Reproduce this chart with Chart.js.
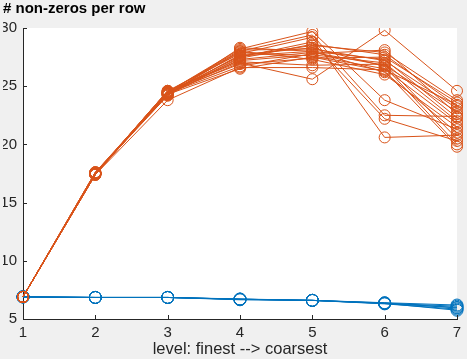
<!DOCTYPE html>
<html>
<head>
<meta charset="utf-8">
<script src="https://cdn.jsdelivr.net/npm/chart.js@4"></script>
<style>
    html, body { margin: 0; padding: 0; background: #f0f0f0; }
    #wrap { width: 467px; height: 359px; }
</style>
</head>
<body>
<div id="wrap"><canvas id="chartNnz" width="467" height="359"></canvas></div>
<script>
// ==========================================================================
// Non-zeros per row por nivel (finest -> coarsest)
// ==========================================================================

// Niveles (eje X)
const niveles = ['1', '2', '3', '4', '5', '6', '7'];

// Ticks del eje Y
const ticksY = [5, 10, 15, 20, 25, 30];

// Series naranjas (una por matriz)
const naranja01 = [6.9, 17.5, 24.4, 27.0, 25.6, 29.8, 24.6];
const naranja02 = [6.9, 17.4, 24.5, 28.2, 29.7, 23.8, 21.3];
const naranja03 = [6.9, 17.6, 24.3, 28.0, 29.4, 22.5, 22.4];
const naranja04 = [6.9, 17.5, 24.6, 27.8, 29.2, 20.6, 20.8];
const naranja05 = [6.9, 17.5, 24.2, 27.5, 28.8, 22.2, 20.3];
const naranja06 = [6.9, 17.4, 23.8, 26.6, 26.6, 26.4, 23.4];
const naranja07 = [6.9, 17.5, 24.4, 27.6, 28.5, 27.9, 23.8];
const naranja08 = [6.9, 17.6, 24.5, 28.1, 28.2, 27.2, 23.1];
const naranja09 = [6.9, 17.5, 24.3, 27.3, 27.9, 26.8, 22.8];
const naranja10 = [6.9, 17.5, 24.4, 27.9, 27.6, 26.5, 21.8];
const naranja11 = [6.9, 17.4, 24.5, 26.9, 27.4, 27.5, 23.6];
const naranja12 = [6.9, 17.6, 24.2, 28.3, 28.0, 26.2, 21.0];
const naranja13 = [6.9, 17.5, 24.6, 27.2, 27.7, 27.0, 22.0];
const naranja14 = [6.9, 17.5, 24.3, 27.7, 28.3, 26.7, 20.0];
const naranja15 = [6.9, 17.4, 24.4, 26.7, 27.8, 28.1, 22.6];
const naranja16 = [6.9, 17.5, 24.5, 28.0, 27.3, 26.0, 21.5];
const naranja17 = [6.9, 17.6, 24.4, 27.4, 28.6, 27.7, 23.3];
const naranja18 = [6.9, 17.5, 24.3, 26.5, 27.5, 26.3, 19.8];
const naranja19 = [6.9, 17.5, 24.6, 27.1, 26.8, 26.9, 20.5];
const naranja20 = [6.9, 17.4, 24.4, 27.6, 28.0, 27.3, 22.3];

// Series azules
const azul1 = [6.9, 6.85, 6.85, 6.7, 6.6, 6.35, 6.1];
const azul2 = [6.9, 6.85, 6.85, 6.65, 6.6, 6.3, 5.85];
const azul3 = [6.9, 6.85, 6.85, 6.7, 6.6, 6.4, 6.2];
const azul4 = [6.9, 6.85, 6.85, 6.72, 6.6, 6.35, 5.75];
const azul5 = [6.9, 6.85, 6.85, 6.68, 6.6, 6.33, 6.0];
const azul6 = [6.9, 6.85, 6.85, 6.7, 6.6, 6.38, 5.95];

const seriesNaranja = [naranja01, naranja02, naranja03, naranja04, naranja05,
    naranja06, naranja07, naranja08, naranja09, naranja10, naranja11, naranja12,
    naranja13, naranja14, naranja15, naranja16, naranja17, naranja18, naranja19, naranja20];
const seriesAzul = [azul1, azul2, azul3, azul4, azul5, azul6];

const FUENTE = '"Liberation Sans", Arial, sans-serif';
const EJE = '#262626';

function crearSerie(valores, color, radio) {
    return {
        data: valores,
        borderColor: color,
        borderWidth: 1,
        pointStyle: 'circle',
        pointRadius: radio,
        pointBorderWidth: 1,
        pointBorderColor: color,
        pointBackgroundColor: 'rgba(0,0,0,0)',
        fill: false,
        tension: 0
    };
}

const datasets = [];
seriesNaranja.forEach(s => datasets.push(crearSerie(s, '#d95319', 5.5)));
seriesAzul.forEach(s => datasets.push(crearSerie(s, '#0072bd', 6)));

// Fondo blanco del area de dibujo + ticks hacia dentro (estilo MATLAB)
const pluginMatlab = {
    id: 'matlab',
    beforeDraw(chart) {
        const a = chart.chartArea;
        const ctx = chart.ctx;
        ctx.save();
        ctx.fillStyle = '#ffffff';
        ctx.fillRect(a.left, a.top, a.right - a.left, a.bottom - a.top);
        ctx.restore();
    },
    afterDraw(chart) {
        const a = chart.chartArea;
        const ctx = chart.ctx;
        const x = chart.scales.x;
        const y = chart.scales.y;
        ctx.save();
        ctx.strokeStyle = EJE;
        ctx.lineWidth = 1;
        ctx.beginPath();
        niveles.forEach((n, i) => {
            const px = Math.round(x.getPixelForValue(i)) + 0.5;
            ctx.moveTo(px, a.bottom);
            ctx.lineTo(px, a.bottom - 4);
        });
        ticksY.forEach(v => {
            const py = Math.round(y.getPixelForValue(v)) + 0.5;
            ctx.moveTo(a.left, py);
            ctx.lineTo(a.left + 4, py);
        });
        ctx.stroke();
        ctx.restore();
    }
};

const ctxNnz = document.getElementById('chartNnz').getContext('2d');
new Chart(ctxNnz, {
    type: 'line',
    data: { labels: niveles, datasets: datasets },
    plugins: [pluginMatlab],
    options: {
        responsive: false,
        animation: false,
        layout: { padding: { left: 3, right: 10, top: 0, bottom: 0 } },
        plugins: {
            legend: { display: false },
            tooltip: { enabled: false },
            title: {
                display: true,
                text: '# non-zeros per row',
                align: 'start',
                color: '#000',
                font: { family: FUENTE, size: 15, weight: 'bold' },
                padding: { top: 0, bottom: 10 }
            }
        },
        scales: {
            x: {
                type: 'category',
                offset: false,
                grid: { display: false, drawTicks: false },
                border: { display: true, color: EJE, width: 1 },
                ticks: {
                    color: '#262626',
                    padding: 5,
                    maxRotation: 0,
                    font: { family: FUENTE, size: 15 }
                },
                title: {
                    display: true,
                    text: 'level: finest --> coarsest',
                    color: '#262626',
                    padding: { top: 0, bottom: 0 },
                    font: { family: FUENTE, size: 16.5 }
                },
                afterFit(scale) { scale.height = 40; }
            },
            y: {
                min: 5,
                max: 30,
                grid: { display: false, drawTicks: false },
                border: { display: true, color: EJE, width: 1 },
                afterBuildTicks(scale) { scale.ticks = ticksY.map(v => ({ value: v })); },
                ticks: {
                    color: '#262626',
                    padding: 6,
                    font: { family: FUENTE, size: 15 }
                },
                afterFit(scale) { scale.width = 20; }
            }
        }
    }
});
</script>
</body>
</html>
